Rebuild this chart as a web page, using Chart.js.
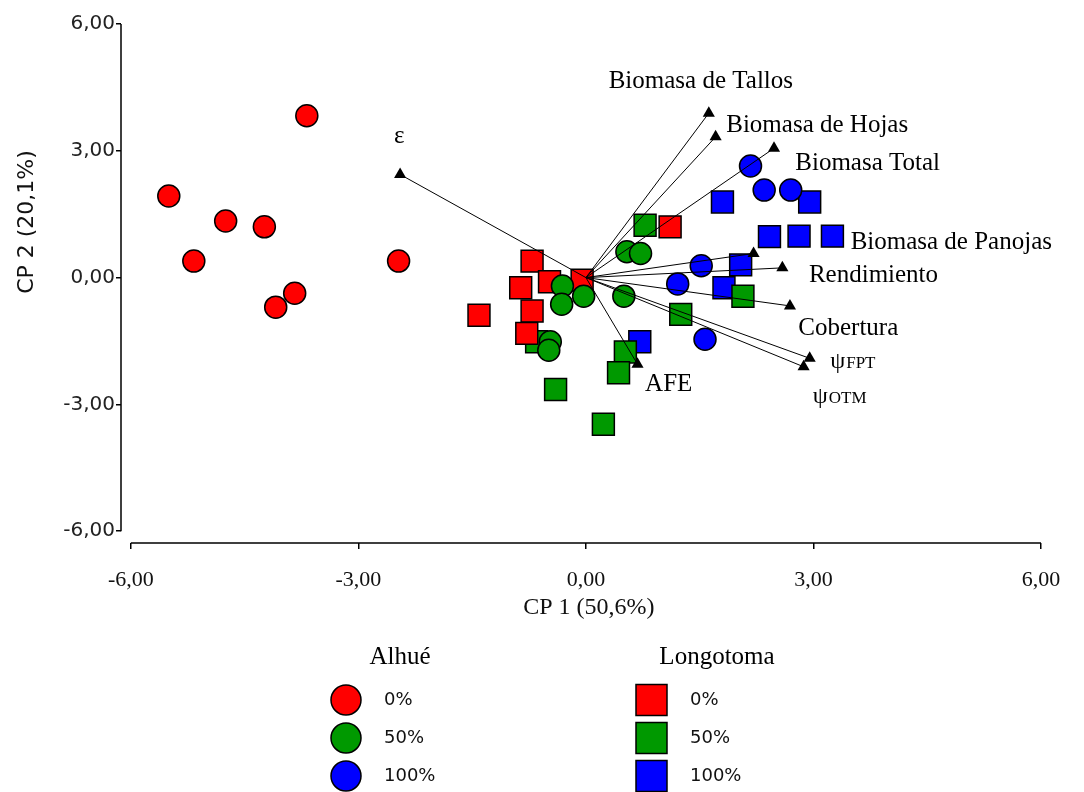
<!DOCTYPE html>
<html lang="es">
<head>
<meta charset="UTF-8">
<title>Biplot CP 1 / CP 2</title>
<script src="https://cdn.jsdelivr.net/npm/chart.js@4.4.1/dist/chart.umd.min.js"></script>
<style>
  html, body { margin: 0; padding: 0; background: #fff; }
</style>
</head>
<body>
<canvas id="chart" width="1084" height="792"></canvas>

<script>
// scores, [CP1, CP2]
const alhue0 = [[-5.50, 1.93], [-5.17, 0.39], [-4.75, 1.34], [-4.24, 1.20], [-3.68, 3.83], [-3.84, -0.37], [-4.09, -0.70], [-2.47, 0.39]];
const alhue50 = [[0.54, 0.61], [0.72, 0.57], [-0.31, -0.20], [-0.03, -0.44], [-0.32, -0.63], [0.50, -0.44], [-0.47, -1.52], [-0.49, -1.72]];
const alhue100 = [[2.17, 2.64], [2.35, 2.07], [2.70, 2.07], [1.52, 0.28], [1.21, -0.15], [1.57, -1.46]];
const longo0 = [[1.11, 1.20], [-0.71, 0.39], [-0.05, -0.06], [-0.48, -0.10], [-0.86, -0.24], [-1.41, -0.89], [-0.71, -0.79], [-0.78, -1.32]];
const longo50 = [[0.78, 1.24], [1.25, -0.87], [2.07, -0.44], [-0.65, -1.52], [0.52, -1.76], [0.43, -2.25], [-0.40, -2.65], [0.23, -3.47]];
const longo100 = [[1.80, 1.79], [2.95, 1.79], [2.42, 0.97], [2.81, 0.98], [3.25, 0.98], [2.04, 0.30], [1.82, -0.24], [0.71, -1.52]];

// variable vectors (tips)
const vecNames = ['ε', 'Biomasa de Tallos', 'Biomasa de Hojas', 'Biomasa Total', 'Biomasa de Panojas', 'Rendimiento', 'Cobertura', 'ψFPT', 'ψOTM', 'AFE'];
const vecX = [-2.45, 1.62, 1.71, 2.48, 2.21, 2.59, 2.69, 2.95, 2.87, 0.68];
const vecY = [2.44, 3.89, 3.33, 3.06, 0.57, 0.23, -0.67, -1.91, -2.11, -2.05];

const tickValues = [-6, -3, 0, 3, 6];
const legendLevels = ['0%', '50%', '100%'];

// where each vector's name is written (data units, left edge / middle)
const labelPos = [
  [-2.46, 3.33, 'center'], [0.30, 4.63], [1.85, 3.61], [2.76, 2.71], [3.49, 0.84],
  [2.94, 0.06], [2.80, -1.20], [3.22, -2.00], [2.99, -2.83], [0.78, -2.54]
];

const RED = '#ff0000', GREEN = '#009900', BLUE = '#0000ff';
const serif = '"Liberation Serif", "DejaVu Serif", serif';
const sans = '"DejaVu Sans", "Liberation Sans", sans-serif';

const pts = arr => arr.map(p => ({ x: p[0], y: p[1] }));
const fmt = v => v.toFixed(2).replace('.', ',');

function group(data, color, style) {
  return {
    type: 'scatter',
    data: pts(data),
    pointStyle: style,
    pointRadius: style === 'rect' ? 15.5 : 11,
    pointBackgroundColor: color,
    pointBorderColor: '#000',
    pointBorderWidth: 1.5,
    order: 2
  };
}

const vectorSets = vecNames.map((n, i) => ({
  type: 'line',
  label: n,
  data: [{ x: 0, y: 0 }, { x: vecX[i], y: vecY[i] }],
  borderColor: '#000',
  borderWidth: 1,
  pointStyle: 'triangle',
  pointRadius: [0, 7],
  pointBackgroundColor: '#000',
  pointBorderColor: '#000',
  pointBorderWidth: 0,
  order: 1
}));

const extras = {
  id: 'extras',
  afterDraw(chart) {
    const { ctx, chartArea: a, scales: { x, y } } = chart;
    ctx.save();

    // axis lines, each spanning -6..6
    ctx.strokeStyle = '#000';
    ctx.lineWidth = 1.5;
    ctx.beginPath();
    ctx.moveTo(a.left, y.getPixelForValue(6));
    ctx.lineTo(a.left, y.getPixelForValue(-6));
    ctx.moveTo(x.getPixelForValue(-6), a.bottom);
    ctx.lineTo(x.getPixelForValue(6), a.bottom);
    ctx.stroke();

    // axis titles
    ctx.fillStyle = '#111';
    ctx.textAlign = 'center';
    ctx.textBaseline = 'middle';
    ctx.font = '24px ' + serif;
    ctx.fillText('CP 1 (50,6%)', x.getPixelForValue(0) + 3, 608);
    ctx.save();
    ctx.translate(27, 222);
    ctx.rotate(-Math.PI / 2);
    ctx.font = '22px ' + sans;
    ctx.fillText('CP 2 (20,1%)', 0, 0);
    ctx.restore();

    // vector names
    ctx.fillStyle = '#000';
    vecNames.forEach((n, i) => {
      const px = x.getPixelForValue(labelPos[i][0]);
      const py = y.getPixelForValue(labelPos[i][1]);
      ctx.textAlign = labelPos[i][2] || 'left';
      if (n.startsWith('ψ')) {
        ctx.textAlign = 'left';
        ctx.font = '24px ' + serif;
        ctx.fillText('ψ', px, py);
        const w = ctx.measureText('ψ').width;
        ctx.font = '17px ' + serif;
        ctx.fillText(n.slice(1), px + w + 1, py + 1);
      } else {
        ctx.font = '25px ' + serif;
        ctx.fillText(n, px, py);
      }
    });

    // legend
    const rows = [700, 738, 776];
    const colors = [RED, GREEN, BLUE];
    ctx.textAlign = 'center';
    ctx.font = '25px ' + serif;
    ctx.fillText('Alhué', 400, 657);
    ctx.fillText('Longotoma', 717, 657);
    ctx.lineWidth = 1.5;
    ctx.strokeStyle = '#000';
    rows.forEach((ry, i) => {
      ctx.fillStyle = colors[i];
      ctx.beginPath();
      ctx.arc(346, ry, 15, 0, Math.PI * 2);
      ctx.fill();
      ctx.stroke();
      ctx.fillRect(636, ry - 15.5, 31, 31);
      ctx.strokeRect(636, ry - 15.5, 31, 31);
      ctx.fillStyle = '#111';
      ctx.textAlign = 'left';
      ctx.font = '18px ' + sans;
      ctx.fillText(legendLevels[i], 384, ry);
      ctx.fillText(legendLevels[i], 690, ry);
      ctx.textAlign = 'center';
    });
    ctx.restore();
  }
};

new Chart(document.getElementById('chart'), {
  data: {
    datasets: vectorSets.concat([
      group(alhue0, RED, 'circle'),
      group(alhue50, GREEN, 'circle'),
      group(alhue100, BLUE, 'circle'),
      group(longo0, RED, 'rect'),
      group(longo50, GREEN, 'rect'),
      group(longo100, BLUE, 'rect')
    ])
  },
  options: {
    responsive: false,
    animation: false,
    layout: { padding: { left: 0, right: 43, top: 24, bottom: 189 } },
    plugins: { legend: { display: false }, tooltip: { enabled: false } },
    scales: {
      x: {
        type: 'linear',
        min: -6.13,
        max: 6,
        afterBuildTicks: s => { s.ticks = tickValues.map(v => ({ value: v })); },
        afterFit: s => { s.height = 60; },
        grid: { drawOnChartArea: false, drawTicks: true, tickLength: 6, color: '#000', lineWidth: 1.5 },
        border: { display: false },
        ticks: {
          autoSkip: false, maxRotation: 0, padding: 18, color: '#111',
          font: { family: serif, size: 22 },
          callback: v => fmt(v)
        }
      },
      y: {
        type: 'linear',
        min: -6.28,
        max: 6,
        afterBuildTicks: s => { s.ticks = tickValues.map(v => ({ value: v })); },
        afterFit: s => { s.width = 121; },
        grid: { drawOnChartArea: false, drawTicks: true, tickLength: 5, color: '#000', lineWidth: 1.5 },
        border: { display: false },
        ticks: {
          autoSkip: false, padding: 1, color: '#222',
          font: { family: sans, size: 20 },
          callback: v => fmt(v)
        }
      }
    }
  },
  plugins: [extras]
});
</script>
</body>
</html>
